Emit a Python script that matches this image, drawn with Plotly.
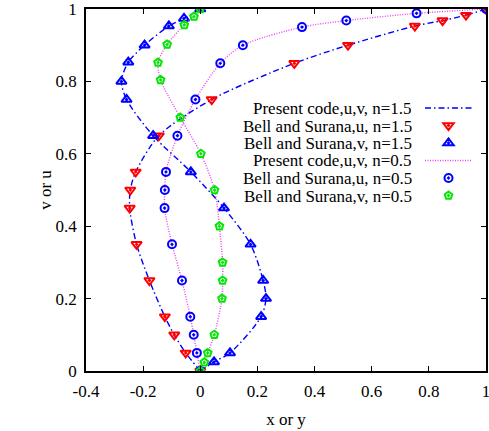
import plotly.graph_objects as go

# ---- data ----
# n = 1.5, u profile (horizontal value, vertical position)
u15_h = [0, -0.051, -0.091, -0.124, -0.178, -0.223, -0.247, -0.245, -0.226, -0.145, 0.040, 0.329, 0.517, 0.751, 0.848, 0.930, 1]
u15_v = [0, 0.05, 0.1, 0.15, 0.25, 0.35, 0.45, 0.5, 0.55, 0.65, 0.75, 0.85, 0.9, 0.953, 0.968, 0.983, 1]
# n = 1.5, v profile
v15_h = [0, 0.048, 0.104, 0.213, 0.230, 0.220, 0.176, 0.083, -0.033, -0.165, -0.258, -0.276, -0.252, -0.195, -0.110, -0.057, 0]
v15_v = [0, 0.025, 0.05, 0.15, 0.2, 0.25, 0.35, 0.45, 0.55, 0.65, 0.75, 0.8, 0.853, 0.9, 0.953, 0.974, 1]
# n = 0.5, u profile
u05_h = [0, -0.012, -0.023, -0.035, -0.064, -0.099, -0.125, -0.124, -0.120, -0.080, -0.017, 0.070, 0.149, 0.356, 0.511, 0.757, 1]
u05_v = [0, 0.05, 0.1, 0.15, 0.25, 0.35, 0.45, 0.5, 0.55, 0.65, 0.75, 0.85, 0.9, 0.95, 0.968, 0.988, 1]
# n = 0.5, v profile
v05_h = [0, 0.014, 0.026, 0.049, 0.076, 0.078, 0.078, 0.067, 0.050, 0.002, -0.070, -0.139, -0.148, -0.116, -0.056, -0.022, 0]
v05_v = [0, 0.024, 0.05, 0.1, 0.2, 0.25, 0.3, 0.4, 0.5, 0.6, 0.7, 0.804, 0.852, 0.902, 0.956, 0.979, 1]

labels = [
    "Present code,u,v, n=1.5",
    "Bell and Surana,u, n=1.5",
    "Bell and Surana,v, n=1.5",
    "Present code,u,v, n=0.5",
    "Bell and Surana,u, n=0.5",
    "Bell and Surana,v, n=0.5",
]
x_ticks = [-0.4, -0.2, 0, 0.2, 0.4, 0.6, 0.8, 1]
x_ticktext = ["-0.4", "-0.2", "0", "0.2", "0.4", "0.6", "0.8", "1"]
y_ticks = [0, 0.2, 0.4, 0.6, 0.8, 1]
y_ticktext = ["0", "0.2", "0.4", "0.6", "0.8", "1"]

FONT = "Liberation Serif"
BLUE = "#0000ff"
RED = "#ff0000"
GREEN = "#00e800"
MAGENTA = "#f040f0"

W, H = 489, 431
ML, MR, MT, MB = 86, 3, 9, 60
PW, PH = W - ML - MR, H - MT - MB

def px_x(p):
    return (p - ML) / PW

def px_y(p):
    return (H - MB - p) / PH

fig = go.Figure()
lg = ["legend", "legend2", "legend3", "legend4", "legend5", "legend6"]
DASHDOT = "6px,3px,1.5px,3px"

# n = 1.5 present code lines
fig.add_trace(go.Scatter(x=u15_h, y=u15_v, mode="lines", name="", legend=lg[0],
                         line=dict(color=BLUE, width=1.4, dash=DASHDOT, shape="spline", smoothing=0.8)))
fig.add_trace(go.Scatter(x=v15_h, y=v15_v, mode="lines", name="", showlegend=False,
                         line=dict(color=BLUE, width=1.4, dash=DASHDOT, shape="spline", smoothing=0.8)))
fig.add_trace(go.Scatter(x=u15_h, y=u15_v, mode="markers", name="", legend=lg[1],
                         marker=dict(symbol="triangle-down-open-dot", size=9, color=RED, line=dict(width=2, color=RED))))
fig.add_trace(go.Scatter(x=v15_h, y=v15_v, mode="markers", name="", legend=lg[2],
                         marker=dict(symbol="triangle-up-open-dot", size=9, color=BLUE, line=dict(width=2, color=BLUE))))
# n = 0.5 present code lines
fig.add_trace(go.Scatter(x=u05_h, y=u05_v, mode="lines", name="", legend=lg[3],
                         line=dict(color=MAGENTA, width=1.4, dash="1px,1.5px", shape="spline", smoothing=0.8)))
fig.add_trace(go.Scatter(x=v05_h, y=v05_v, mode="lines", name="", showlegend=False,
                         line=dict(color=MAGENTA, width=1.4, dash="1px,1.5px", shape="spline", smoothing=0.8)))
fig.add_trace(go.Scatter(x=u05_h, y=u05_v, mode="markers", name="", legend=lg[4],
                         marker=dict(symbol="circle-open-dot", size=8, color=BLUE, line=dict(width=2, color=BLUE))))
fig.add_trace(go.Scatter(x=v05_h, y=v05_v, mode="markers", name="", legend=lg[5],
                         marker=dict(symbol="pentagon-open-dot", size=8, color=GREEN, line=dict(width=2, color=GREEN))))

row_px = [108, 125.5, 143, 160.5, 178, 195.5]
legend_left_px = 420
text_right_px = 413

layout_legends = {}
for i, key in enumerate(lg):
    layout_legends[key] = dict(
        x=px_x(legend_left_px), xanchor="left",
        y=px_y(row_px[i]), yanchor="middle",
        bgcolor="rgba(0,0,0,0)", borderwidth=0,
        font=dict(family=FONT, size=10), itemwidth=47,
    )

annotations = []
for i, t in enumerate(labels):
    annotations.append(dict(
        text=t, xref="paper", yref="paper",
        x=px_x(text_right_px), y=px_y(row_px[i]),
        xanchor="right", yanchor="middle", showarrow=False,
        height=16, valign="middle", borderpad=0,
        font=dict(family=FONT, size=17, color="black"),
    ))

axis_common = dict(
    showgrid=False, zeroline=False, showline=True, linecolor="black", linewidth=1.5,
    mirror="ticks", ticks="inside", ticklen=5, tickwidth=1, tickcolor="black",
    tickfont=dict(family=FONT, size=17, color="black"), automargin=False,
    ticklabeloverflow="allow",
)

fig.update_layout(
    width=W, height=H,
    margin=dict(l=ML, r=MR, t=MT, b=MB),
    paper_bgcolor="white", plot_bgcolor="white",
    font=dict(family=FONT, size=17, color="black"),
    xaxis=dict(range=[-0.4, 1], tickvals=x_ticks, ticktext=x_ticktext,
               title=dict(text="x or y", font=dict(family=FONT, size=17), standoff=13),
               ticklabelstandoff=4, **axis_common),
    yaxis=dict(range=[0, 1], tickvals=y_ticks, ticktext=y_ticktext,
               title=dict(text="v or u", font=dict(family=FONT, size=17), standoff=0),
               ticklabelstandoff=4, **axis_common),
    annotations=annotations,
    **layout_legends,
)

fig.write_html("out.html", config={"displayModeBar": False},
               post_script="document.body.style.margin='0';document.body.style.overflow='hidden';")
